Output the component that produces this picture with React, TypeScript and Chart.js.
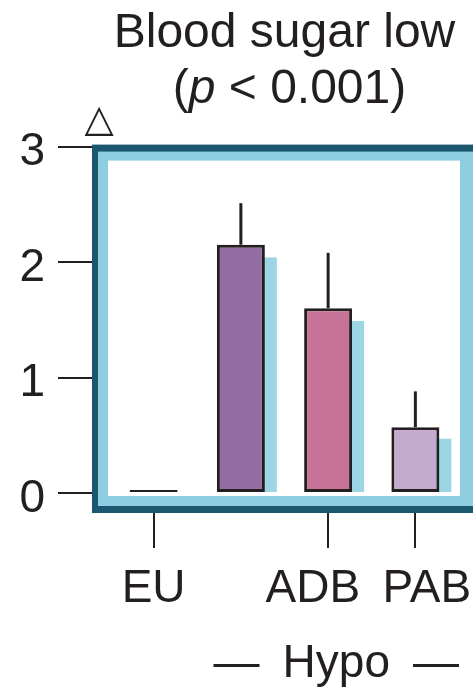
import React, { useEffect, useRef } from 'react';
import { Chart, registerables } from 'chart.js';

Chart.register(...registerables);

// ---- data ----
const categories = ['EU', '', 'ADB\u2002\u2006', '\u2002PAB'];
const meanValues = [0.025, 2.15, 1.6, 0.57];
const errorUpper: (number | null)[] = [null, 2.51, 2.08, 0.88];
const shadowValues: (number | null)[] = [null, 2.04, 1.49, 0.47];
const yTickValues = [0, 1, 2, 3];
const titleLine1 = 'Blood sugar low';
const titleLine2Parts = [
  { text: '(', italic: false },
  { text: 'p', italic: true },
  { text: ' < 0.001)', italic: false },
];
const groupLabel = '\u2014\u2002Hypo\u2002\u2014';
const cornerMark = '\u25B3';

// ---- styles ----
const FONT = "'Liberation Sans', Arial, sans-serif";
const INK = '#231f20';
const DARK = '#1c5770';
const LIGHT = '#8dcfe1';
const SHADOW = '#9cd5e4';
const barColors = ['#231f20', '#946ea3', '#c77397', '#c4aacc'];

const decorPlugin = {
  id: 'decor',
  beforeDatasetsDraw(chart: any) {
    const { ctx, chartArea: a } = chart;
    ctx.save();
    // frame: dark outer, light band, white inside
    ctx.fillStyle = DARK;
    ctx.fillRect(a.left - 18, a.top - 2, a.right + 21 - (a.left - 18), a.bottom + 20 - (a.top - 2));
    ctx.fillStyle = LIGHT;
    ctx.fillRect(a.left - 12, a.top + 5, a.right + 15 - (a.left - 12), a.bottom + 13 - (a.top + 5));
    ctx.fillStyle = '#ffffff';
    ctx.fillRect(a.left - 2, a.top + 14, a.right + 1 - (a.left - 2), a.bottom + 3 - (a.top + 14));
    // shadows behind bars
    const meta = chart.getDatasetMeta(0);
    const yScale = chart.scales.y;
    ctx.fillStyle = SHADOW;
    meta.data.forEach((el: any, i: number) => {
      const v = shadowValues[i];
      if (v == null) return;
      const { x, width, base } = el.getProps(['x', 'width', 'base'], true);
      const top = yScale.getPixelForValue(v);
      ctx.fillRect(x - width / 2 + 12, top, width, base - top);
    });
    ctx.restore();
  },
  afterDatasetsDraw(chart: any) {
    const { ctx } = chart;
    const meta = chart.getDatasetMeta(0);
    const yScale = chart.scales.y;
    ctx.save();
    ctx.strokeStyle = INK;
    ctx.lineWidth = 3;
    meta.data.forEach((el: any, i: number) => {
      const e = errorUpper[i];
      if (e == null) return;
      const { x } = el.getProps(['x'], true);
      ctx.beginPath();
      ctx.moveTo(x, yScale.getPixelForValue(meanValues[i]));
      ctx.lineTo(x, yScale.getPixelForValue(e));
      ctx.stroke();
    });
    ctx.restore();
  },
  afterDraw(chart: any) {
    const { ctx, chartArea: a } = chart;
    ctx.save();
    // second title line with italic p
    const normal = `normal 48px ${FONT}`;
    const italic = `italic 48px ${FONT}`;
    let total = 0;
    const widths = titleLine2Parts.map((p) => {
      ctx.font = p.italic ? italic : normal;
      const w = ctx.measureText(p.text).width;
      total += w;
      return w;
    });
    let x = (a.left + a.right) / 2 + 5 - total / 2;
    const y = a.top - 44;
    ctx.fillStyle = INK;
    ctx.textBaseline = 'alphabetic';
    ctx.textAlign = 'left';
    titleLine2Parts.forEach((p, i) => {
      ctx.font = p.italic ? italic : normal;
      ctx.fillText(p.text, x, y);
      x += widths[i];
    });
    // corner triangle
    ctx.font = `normal 38px 'DejaVu Sans', sans-serif`;
    ctx.textAlign = 'center';
    ctx.fillText(cornerMark, a.left - 11, a.top - 16);
    ctx.restore();
  },
};

export default function App() {
  const ref = useRef<HTMLCanvasElement | null>(null);
  useEffect(() => {
    if (!ref.current) return;
    const chart = new Chart(ref.current, {
      type: 'bar',
      data: {
        labels: categories,
        datasets: [
          {
            data: meanValues,
            backgroundColor: barColors,
            borderColor: INK,
            borderWidth: 3,
            borderSkipped: false,
            categoryPercentage: 1,
            barPercentage: 0.55,
          },
        ],
      },
      options: {
        animation: false,
        responsive: true,
        maintainAspectRatio: false,
        layout: { padding: { left: 0, right: 14, top: 0, bottom: 0 } },
        plugins: {
          legend: { display: false },
          tooltip: { enabled: false },
          title: {
            display: true,
            text: titleLine1,
            fullSize: false,
            color: INK,
            font: { family: FONT, size: 48, weight: 'normal', lineHeight: 1.2 },
            padding: { top: 5, bottom: 84 },
          },
        },
        scales: {
          x: {
            offset: true,
            grid: {
              offset: false,
              drawOnChartArea: false,
              tickLength: 55,
              lineWidth: 2,
              tickColor: (c: any) => (categories[c.index] ? INK : 'rgba(0,0,0,0)'),
            },
            border: { display: false },
            ticks: {
              autoSkip: false,
              maxRotation: 0,
              padding: 13,
              color: INK,
              font: { family: FONT, size: 46, lineHeight: 1.25 },
            },
            title: {
              display: true,
              text: groupLabel,
              align: 'end',
              color: INK,
              font: { family: FONT, size: 46, lineHeight: 1.2 },
              padding: { top: 0, bottom: 0 },
            },
            afterFit: (s: any) => {
              s.height = 199;
              s.paddingLeft = 0;
              s.paddingRight = 0;
            },
          },
          y: {
            min: 0,
            max: 3,
            afterBuildTicks: (s: any) => {
              s.ticks = yTickValues.map((v) => ({ value: v }));
            },
            grid: {
              drawOnChartArea: false,
              tickLength: 52,
              lineWidth: 2,
              tickColor: INK,
            },
            border: { display: false },
            ticks: {
              padding: 13,
              labelOffset: 6,
              color: INK,
              font: { family: FONT, size: 46, lineHeight: 1.2 },
            },
            afterFit: (s: any) => {
              s.width = 110;
            },
          },
        },
      },
      plugins: [decorPlugin],
    } as any);
    return () => chart.destroy();
  }, []);
  return (
    <div style={{ position: 'absolute', left: 0, top: 0, width: 473, height: 692 }}>
      <canvas ref={ref} />
    </div>
  );
}
